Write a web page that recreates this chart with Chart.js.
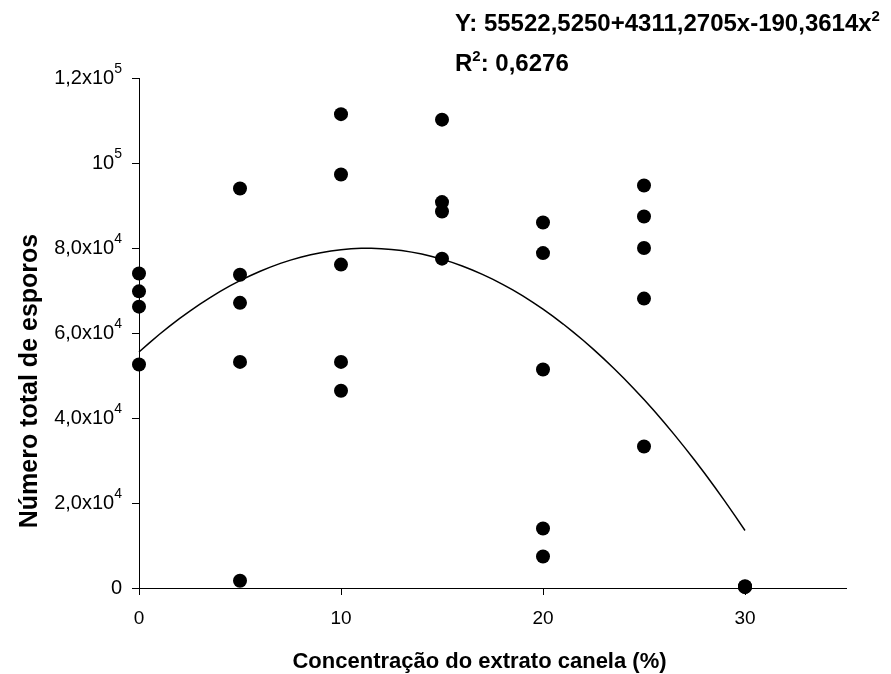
<!DOCTYPE html>
<html>
<head>
<meta charset="utf-8">
<script src="https://cdn.jsdelivr.net/npm/chart.js@4/dist/chart.umd.min.js"></script>
<style>
  html, body { margin: 0; padding: 0; background: #fff; }
</style>
</head>
<body>
<canvas id="chart" width="891" height="674"></canvas>
<script>
// extract concentration (%) and the replicate spore counts at each level
const concentrations = [0, 5, 10, 15, 20, 25, 30];
const sporesAt0  = [74000, 69800, 66200, 52600];
const sporesAt5  = [94000, 73700, 67100, 53200, 1700];
const sporesAt10 = [111500, 97300, 76100, 53200, 46400];
const sporesAt15 = [110200, 90800, 88600, 77500];
const sporesAt20 = [86000, 78800, 51400, 14000, 7400];
const sporesAt25 = [94700, 87400, 80000, 68100, 33300];
const sporesAt30 = [200, 300, 400];
const sporeGroups = [sporesAt0, sporesAt5, sporesAt10, sporesAt15, sporesAt20, sporesAt25, sporesAt30];

// quadratic fit as printed: Y = a + b*x + c*x^2
const fitCoefs = [55522.5250, 4311.2705, -190.3614];
const fitLabel = 'Y: 55522,5250+4311,2705x-190,3614x';
const r2Value = '0,6276';

const xTicks = [0, 10, 20, 30];
const yTicks = [0, 20000, 40000, 60000, 80000, 100000, 120000];
const yTickText = ['0', '2,0x10', '4,0x10', '6,0x10', '8,0x10', '10', '1,2x10'];
const yTickExp  = ['', '4', '4', '4', '4', '5', '5'];

const xTitle = 'Concentração do extrato canela (%)';
const yTitle = 'Número total de esporos';

const FONT = '"Liberation Sans", Arial, sans-serif';

const scatterPts = [];
concentrations.forEach((c, i) => {
  sporeGroups[i].forEach(v => scatterPts.push({ x: c, y: v }));
});

const fitPts = [];
for (let x = 0; x <= 30; x += 0.5) {
  fitPts.push({ x: x, y: fitCoefs[0] + fitCoefs[1] * x + fitCoefs[2] * x * x });
}

// text with trailing superscripts, parts = [[text, isSup], ...]
function drawRich(ctx, parts, x, y, size, bold, align, supScale) {
  const sc = supScale || 0.65;
  const big = (bold ? 'bold ' : '') + size + 'px ' + FONT;
  const small = (bold ? 'bold ' : '') + Math.round(size * sc) + 'px ' + FONT;
  let total = 0;
  parts.forEach(p => { ctx.font = p[1] ? small : big; total += ctx.measureText(p[0]).width; });
  let cx = align === 'right' ? x - total : x;
  ctx.textAlign = 'left';
  parts.forEach(p => {
    ctx.font = p[1] ? small : big;
    ctx.fillText(p[0], cx, p[1] ? y - size * 0.42 : y);
    cx += ctx.measureText(p[0]).width;
  });
}

const labelsPlugin = {
  id: 'labels',
  afterDraw(chart) {
    const ctx = chart.ctx;
    const area = chart.chartArea;
    const ys = chart.scales.y;
    ctx.save();
    ctx.fillStyle = '#000';

    // y tick labels with powers of ten
    ctx.textBaseline = 'middle';
    yTicks.forEach((v, i) => {
      const py = ys.getPixelForValue(v);
      const parts = [[yTickText[i], false]];
      if (yTickExp[i]) parts.push([yTickExp[i], true]);
      drawRich(ctx, parts, area.left - 17, py, 20, false, 'right', 0.68);
    });

    // axis titles
    ctx.textBaseline = 'middle';
    ctx.textAlign = 'center';
    ctx.font = 'bold 22px ' + FONT;
    ctx.fillText(xTitle, (area.left + area.right) / 2 - 13, area.bottom + 74);
    ctx.save();
    ctx.font = 'bold 25px ' + FONT;
    ctx.translate(area.left - 109, (area.top + area.bottom) / 2 + 48);
    ctx.rotate(-Math.PI / 2);
    ctx.fillText(yTitle, 0, 0);
    ctx.restore();

    // regression equation
    ctx.textBaseline = 'alphabetic';
    drawRich(ctx, [[fitLabel, false], ['2', true]], 455, 31, 24, true, 'left', 0.62);
    drawRich(ctx, [['R', false], ['2', true], [': ' + r2Value, false]], 455, 71, 24, true, 'left', 0.62);
    ctx.restore();
  }
};

new Chart(document.getElementById('chart'), {
  type: 'scatter',
  data: {
    datasets: [
      {
        label: 'fit',
        type: 'line',
        data: fitPts,
        borderColor: '#000',
        borderWidth: 1.5,
        pointRadius: 0,
        fill: false,
        tension: 0,
        clip: false
      },
      {
        label: 'spores',
        data: scatterPts,
        pointRadius: 7,
        pointHoverRadius: 7,
        backgroundColor: '#000',
        borderWidth: 0,
        clip: false
      }
    ]
  },
  options: {
    responsive: false,
    animation: false,
    devicePixelRatio: 1,
    layout: { padding: { left: 0, top: 78, right: 45, bottom: 0 } },
    plugins: { legend: { display: false }, tooltip: { enabled: false } },
    scales: {
      x: {
        type: 'linear',
        min: 0,
        max: 35,
        afterBuildTicks: s => { s.ticks = xTicks.map(v => ({ value: v })); },
        afterFit: s => { s.height = 86; },
        grid: { drawOnChartArea: false, tickLength: 7, color: '#000', lineWidth: 1 },
        border: { color: '#000', width: 1 },
        ticks: { color: '#000', font: { family: FONT, size: 19 }, padding: 12, maxRotation: 0 }
      },
      y: {
        type: 'linear',
        min: 0,
        max: 120000,
        afterBuildTicks: s => { s.ticks = yTicks.map(v => ({ value: v })); },
        afterFit: s => { s.width = 139; },
        grid: { drawOnChartArea: false, tickLength: 7, color: '#000', lineWidth: 1 },
        border: { color: '#000', width: 1 },
        ticks: { display: false }
      }
    }
  },
  plugins: [labelsPlugin]
});
</script>
</body>
</html>
